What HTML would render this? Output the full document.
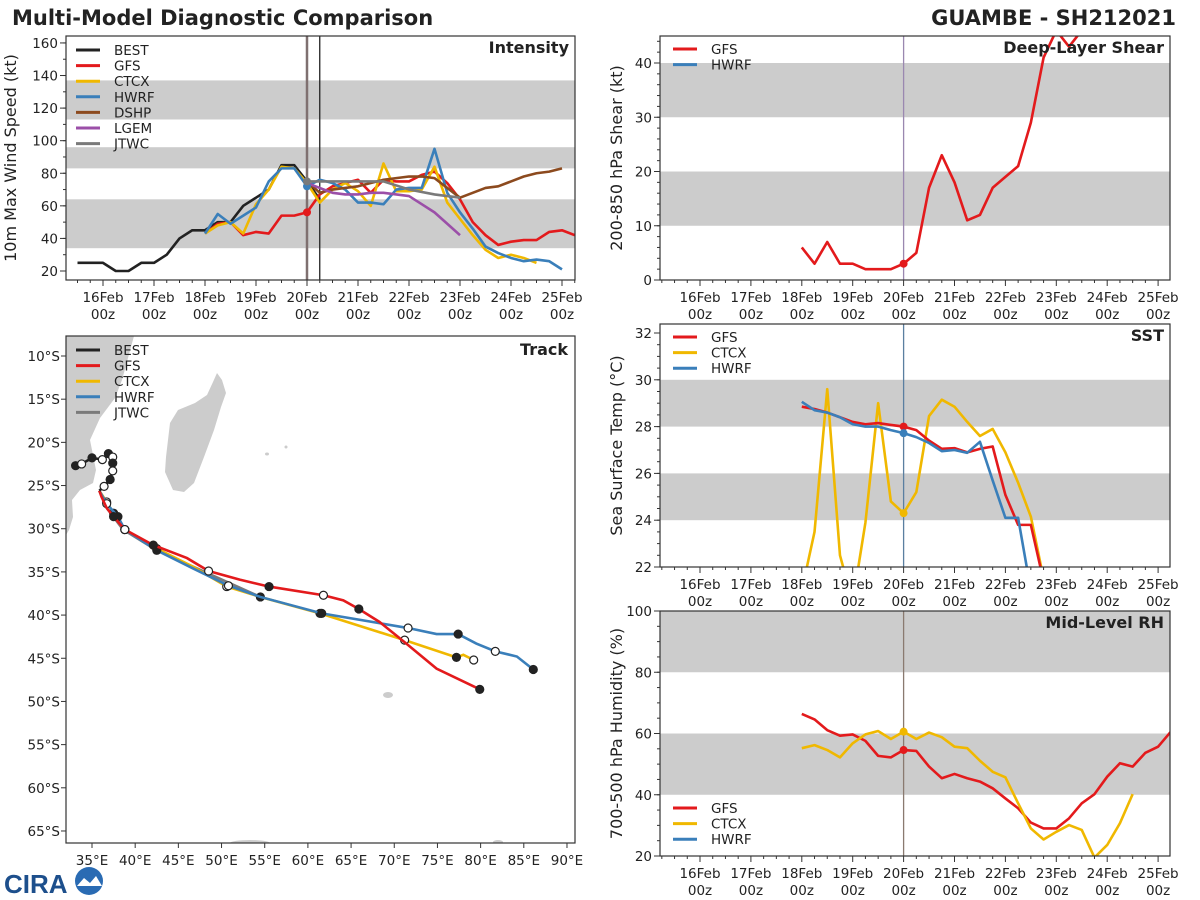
<!DOCTYPE html>
<html><head><meta charset="utf-8">
<style>
html,body{margin:0;padding:0;background:#fff;}
svg{display:block;font-family:"DejaVu Sans","Liberation Sans",sans-serif;}
</style></head>
<body>
<svg id="chart" width="1200" height="900" viewBox="0 0 1200 900" xmlns="http://www.w3.org/2000/svg">
<defs>
<clipPath id="c1"><rect x="66" y="36" width="509" height="244"/></clipPath>
<clipPath id="c2"><rect x="660" y="36" width="510" height="244"/></clipPath>
<clipPath id="c3"><rect x="660" y="324" width="510" height="243"/></clipPath>
<clipPath id="c4"><rect x="660" y="611" width="510" height="245"/></clipPath>
<clipPath id="c5"><rect x="66" y="336" width="509" height="507"/></clipPath>
</defs>
<text x="12" y="25" font-size="21" font-weight="bold" fill="#222">Multi-Model Diagnostic Comparison</text>
<text x="1176" y="25" font-size="21" font-weight="bold" fill="#222" text-anchor="end">GUAMBE - SH212021</text>
<g id="layer"></g>
<g>
<text x="4" y="893" font-size="26" font-weight="bold" fill="#1d4f8c" font-family="Liberation Sans,sans-serif">CIRA</text>
<circle cx="89" cy="881" r="14" fill="#2a6bb3"/>
<path d="M77 886 L84 878 L90 883 L96 876 L102 886 Z" fill="#fff"/>
</g>
</svg>
<script>
// ---- data (6-hourly unless noted) ----
const models = ['BEST','GFS','CTCX','HWRF','DSHP','LGEM','JTWC'];
const colors = {BEST:'#222222',GFS:'#e31a1c',CTCX:'#f0b800',HWRF:'#3a7fba',DSHP:'#8c4a1e',LGEM:'#9b4fa8',JTWC:'#7a7a7a'};
// start times in 6h steps from 16Feb00z
const bestStart = -2;
const bestVmax = [25,25,25,20,20,25,25,30,40,45,45,50,50,60,65,70,85,85,75,64];
const gfsVmax = [43,49,50,42,44,43,54,54,56,67,72,74,76,68,76,75,75,79,81,74,64,50,42,36,38,39,39,44,45,42];
const ctcxVmax = [43,48,50,43,61,70,84,83,74,62,70,74,69,60,86,69,69,70,84,62,52,42,33,28,30,28,25];
const hwrfVmax = [43,55,49,54,59,75,83,83,72,76,74,70,62,62,61,70,71,71,95,68,56,46,35,31,28,26,27,26,21];
const dshpVmax = [75,68,70,71,72,74,76,77,78,78,77,71,65,68,71,72,75,78,80,81,83];
const lgemVmax = [74,71,68,67,67,68,68,67,66,61,56,49,42];
const jtwcTimes = [16,18,20,22,24,26,28];
const jtwcVmax = [75,75,75,75,70,67,65];
const guideStart = 8, dshpStart = 16, envStart = 8;
const shearGfs = [6,3,7,3,3,2,2,2,3,5,17,23,18,11,12,17,19,21,29,41,46,43,46];
const sstGfs = [28.85,28.75,28.6,28.4,28.2,28.1,28.15,28.07,28.0,27.85,27.4,27.05,27.08,26.9,27.05,27.15,25.08,23.8,23.8,21.4];
const sstHwrf = [29.06,28.7,28.6,28.4,28.1,28.0,28.0,27.85,27.72,27.55,27.3,26.95,27.0,26.88,27.35,25.7,24.1,24.1,21.0];
const sstCtcx = [21.0,23.5,29.6,22.5,20.5,23.9,29.0,24.8,24.3,25.2,28.45,29.15,28.85,28.2,27.6,27.9,26.9,25.6,24.15,21.5];
const rhGfs = [66.4,64.6,61.1,59.3,59.7,57.6,52.7,52.2,54.6,54.3,49.2,45.4,46.8,45.4,44.3,42.1,38.8,35.6,30.9,29.0,29.0,32.3,37.2,40.2,45.9,50.3,49.2,53.7,55.7,60.6];
const rhCtcx = [55.2,56.2,54.6,52.2,56.8,59.7,60.8,58.2,60.6,58.2,60.3,58.8,55.7,55.2,51.1,47.5,45.7,37.2,29.0,25.4,27.9,30.1,28.5,19.5,23.6,30.7,40.2];
// tracks: lon (E), lat (S); marker 1=filled 2=open 0=none
const bestLon = [33.1,33.8,35.0,36.2,36.9,37.4,37.4,37.4,37.1,36.4,35.85];
const bestLat = [22.7,22.5,21.8,22.0,21.3,21.7,22.4,23.3,24.3,25.1,25.6];
const bestMk  = [1,2,1,2,1,2,1,2,1,2,0];
const gfsLon = [35.85,36.1,36.7,37.5,38.8,42.1,46.0,48.5,52.1,55.5,61.8,64.1,65.9,68.3,71.4,74.9,79.9];
const gfsLat = [25.6,26.3,27.6,28.6,30.1,31.9,33.4,34.9,35.9,36.7,37.7,38.3,39.3,40.8,43.3,46.2,48.6];
const gfsMk  = [0,0,0,1,2,1,0,2,0,1,2,0,1,0,0,0,1];
const ctcxLon = [35.85,36.7,37.5,38.8,42.5,46.7,50.6,54.5,61.4,71.2,77.2,78.0,79.2];
const ctcxLat = [25.6,26.9,28.2,30.1,32.3,34.4,36.7,37.9,39.8,42.9,44.9,44.6,45.2];
const ctcxMk  = [0,2,1,2,1,0,2,1,1,2,1,0,2];
const hwrfLon = [35.85,36.7,38.0,38.8,42.5,46.7,50.8,54.5,61.6,71.6,74.9,77.4,79.5,81.7,84.2,86.1];
const hwrfLat = [25.6,27.1,28.6,30.1,32.5,34.6,36.6,37.9,39.8,41.5,42.2,42.2,43.3,44.2,44.8,46.3];
const hwrfMk  = [0,2,1,2,1,0,2,0,1,2,0,1,0,2,0,1];
const jtwcLon = [35.85,36.7,38.6,42.5,54.5];
const jtwcLat = [25.6,27.6,30.1,32.5,37.9];
const dayLabels = ['16Feb','17Feb','18Feb','19Feb','20Feb','21Feb','22Feb','23Feb','24Feb','25Feb'];

const NS='http://www.w3.org/2000/svg';
const layer=document.getElementById('layer');
function mk(tag,attrs,parent){const e=document.createElementNS(NS,tag);for(const k in attrs)e.setAttribute(k,attrs[k]);(parent||layer).appendChild(e);return e;}
function txt(s,attrs,parent){const e=mk('text',attrs,parent);e.textContent=s;return e;}

const P1={x0:66,x1:575,y0:36,y1:280,clip:'c1',tx:t=>103+t*51,ty:v=>271-(v-20)*1.629};
const PS={x0:660,x1:1170,y0:36,y1:280,clip:'c2',tx:t=>700+t*50.9,ty:v=>280-v*5.425};
const PT={x0:660,x1:1170,y0:324,y1:567,clip:'c3',tx:t=>700+t*50.9,ty:v=>567-(v-22)*23.4};
const PR={x0:660,x1:1170,y0:611,y1:856,clip:'c4',tx:t=>700+t*50.9,ty:v=>856-(v-20)*3.0625};
const lonX=l=>92+(l-35)*8.636, latY=l=>356+(l-10)*8.636;

function bands(P,list,name){
  list.forEach(b=>{
    const r=mk('rect',{x:P.x0,y:P.ty(b[1]),width:P.x1-P.x0,height:P.ty(b[0])-P.ty(b[1]),fill:'#cccccc'});
    
    
  });
}
function frame(P,name){
  const r=mk('rect',{x:P.x0,y:P.y0,width:P.x1-P.x0,height:P.y1-P.y0,fill:'none',stroke:'#333','stroke-width':1.2});
  
  
}
function xaxis(P,name){
  const g=mk('g',{});
  
  
  for(let s=-4;s<=40;s++){const x=P.tx(s/4);if(x<P.x0||x>P.x1)continue;
    mk('line',{x1:x,x2:x,y1:P.y1,y2:P.y1+(s%4==0?6:3),stroke:'#333'},g);}
  dayLabels.forEach((d,i)=>{const x=P.tx(i);
    txt(d,{x:x,y:P.y1+22,'font-size':13.5,'text-anchor':'middle',fill:'#222'},g);
    txt('00z',{x:x,y:P.y1+39,'font-size':13.5,'text-anchor':'middle',fill:'#222'},g);});
}
function yaxis(P,name,ticks,minor,title,tx){
  const g=mk('g',{});
  
  
  minor.forEach(v=>{const y=P.ty(v);if(y<P.y0-0.5||y>P.y1+0.5)return;mk('line',{x1:P.x0-3,x2:P.x0,y1:y,y2:y,stroke:'#333'},g);});
  ticks.forEach(v=>{const y=P.ty(v);mk('line',{x1:P.x0-6,x2:P.x0,y1:y,y2:y,stroke:'#333'},g);
    txt(String(v),{x:P.x0-8,y:y+5,'font-size':13.5,'text-anchor':'end',fill:'#222'},g);});
  const cy=(P.y0+P.y1)/2;
  const t=txt(title,{x:tx,y:cy,'font-size':16,'text-anchor':'middle',fill:'#222',transform:`rotate(-90 ${tx} ${cy})`},g);
  
  
}
// start in 6h steps from 16Feb00z
function series(P,start,vals,color,name){
  const pts=vals.map((v,i)=>P.tx((start+i)*0.25)+','+P.ty(v)).join(' ');
  const l=mk('polyline',{points:pts,fill:'none',stroke:color,'stroke-width':2.6,'stroke-linejoin':'round','clip-path':`url(#${P.clip})`});
  
  
  return l;
}
function dot(P,t,v,color,name){
  const c=mk('circle',{cx:P.tx(t),cy:P.ty(v),r:4,fill:color});
  
  
}
function vline(P,t,color,w,name){
  const l=mk('line',{x1:P.tx(t),x2:P.tx(t),y1:P.y0,y2:P.y1,stroke:color,'stroke-width':w});
  
  
}
function legend(x,y,items,name){
  const g=mk('g',{});
  
  
  items.forEach((m,i)=>{const yy=y+i*15.6;
    mk('line',{x1:x,x2:x+24,y1:yy,y2:yy,stroke:colors[m],'stroke-width':3},g);
    const t=txt(m,{x:x+38,y:yy+5,'font-size':13.5,fill:'#222'},g);
    
    });
}
function ptitle(P,s,name){
  const t=txt(s,{x:P.x1-6,y:P.y0+17,'font-size':16,'font-weight':'bold','text-anchor':'end',fill:'#222'});
  
  
}
function range(a,b,s){const r=[];for(let v=a;v<=b+1e-9;v+=s)r.push(+v.toFixed(3));return r;}

// ---- Intensity ----
bands(P1,[[34,64],[83,96],[113,137]],'intensity');
vline(P1,4,'#7f7070',2.5,'analysis-time-line');
vline(P1,4.25,'#222',1.3,'current-time-line');
series(P1,bestStart,bestVmax,colors.BEST,'best-intensity-line');
series(P1,guideStart,gfsVmax,colors.GFS,'gfs-intensity-line');
series(P1,guideStart,ctcxVmax,colors.CTCX,'ctcx-intensity-line');
series(P1,guideStart,hwrfVmax,colors.HWRF,'hwrf-intensity-line');
series(P1,dshpStart,dshpVmax,colors.DSHP,'dshp-intensity-line');
series(P1,dshpStart,lgemVmax,colors.LGEM,'lgem-intensity-line');
(function(){const pts=jtwcTimes.map((s,i)=>P1.tx(s*0.25)+','+P1.ty(jtwcVmax[i])).join(' ');
 const l=mk('polyline',{points:pts,fill:'none',stroke:colors.JTWC,'stroke-width':2.6,'clip-path':'url(#c1)'});
 
 })();
dot(P1,4,gfsVmax[8],colors.GFS,'gfs-intensity-dot');
dot(P1,4,hwrfVmax[8],colors.HWRF,'hwrf-intensity-dot');
dot(P1,4,jtwcVmax[0],colors.JTWC,'jtwc-intensity-dot');
frame(P1,'intensity');xaxis(P1,'intensity');
yaxis(P1,'intensity',range(20,160,20),range(20,160,10),'10m Max Wind Speed (kt)',16);
legend(76,50,['BEST','GFS','CTCX','HWRF','DSHP','LGEM','JTWC'],'intensity-legend');
ptitle(P1,'Intensity','intensity-title');

// ---- Shear ----
bands(PS,[[10,20],[30,40]],'shear');
vline(PS,4,'#9a88b0',1.3,'shear-analysis-line');
series(PS,envStart,shearGfs,colors.GFS,'gfs-shear-line');
dot(PS,4,shearGfs[8],colors.GFS,'gfs-shear-dot');
frame(PS,'shear');xaxis(PS,'shear');
yaxis(PS,'shear',range(0,40,10),range(0,44,2),'200-850 hPa Shear (kt)',622);
legend(673,49,['GFS','HWRF'],'shear-legend');
ptitle(PS,'Deep-Layer Shear','shear-title');

// ---- SST ----
bands(PT,[[24,26],[28,30]],'sst');
vline(PT,4,'#5a7fa0',1.3,'sst-analysis-line');
series(PT,envStart,sstCtcx,colors.CTCX,'ctcx-sst-line');
series(PT,envStart,sstGfs,colors.GFS,'gfs-sst-line');
series(PT,envStart,sstHwrf,colors.HWRF,'hwrf-sst-line');
dot(PT,4,sstGfs[8],colors.GFS,'gfs-sst-dot');
dot(PT,4,sstHwrf[8],colors.HWRF,'hwrf-sst-dot');
dot(PT,4,sstCtcx[8],colors.CTCX,'ctcx-sst-dot');
frame(PT,'sst');xaxis(PT,'sst');
yaxis(PT,'sst',range(22,32,2),range(22,32,0.5),'Sea Surface Temp (°C)',622);
legend(673,337,['GFS','CTCX','HWRF'],'sst-legend');
ptitle(PT,'SST','sst-title');

// ---- RH ----
bands(PR,[[40,60],[80,100]],'rh');
vline(PR,4,'#8a7a70',1.3,'rh-analysis-line');
series(PR,envStart,rhGfs,colors.GFS,'gfs-rh-line');
series(PR,envStart,rhCtcx,colors.CTCX,'ctcx-rh-line');
dot(PR,4,rhCtcx[8],colors.CTCX,'ctcx-rh-dot');
dot(PR,4,rhGfs[8],colors.GFS,'gfs-rh-dot');
frame(PR,'rh');xaxis(PR,'rh');
yaxis(PR,'rh',range(20,100,20),range(20,100,5),'700-500 hPa Humidity (%)',622);
legend(673,808,['GFS','CTCX','HWRF'],'rh-legend');
ptitle(PR,'Mid-Level RH','rh-title');

// ---- Track ----
const PK={x0:66,x1:575,y0:336,y1:843};
(function(){
 const g=mk('g',{'clip-path':'url(#c5)'});
 
 
 mk('polygon',{points:'60,336 134,336 122,380 115,398 100,418 90,440 92,450 96,470 93,483 80,490 72,500 73,517 69,530 60,545',fill:'#cccccc'},g);
 mk('polygon',{points:'217,373 222,380 226,393 221,407 214,430 204,457 194,483 184,492 173,490 165,472 166,457 170,423 178,410 195,403 207,395 213,382',fill:'#cccccc'},g);
 mk('ellipse',{cx:267,cy:454,rx:2,ry:1.5,fill:'#cccccc'},g);
 mk('ellipse',{cx:286,cy:447,rx:1.5,ry:1.5,fill:'#cccccc'},g);
 mk('ellipse',{cx:388,cy:695,rx:5,ry:3,fill:'#cccccc'},g);
 mk('ellipse',{cx:250,cy:843,rx:20,ry:3,fill:'#cccccc'},g);
 mk('ellipse',{cx:498,cy:842,rx:5,ry:2,fill:'#cccccc'},g);
 mk('rect',{x:PK.x0,y:PK.y0,width:PK.x1-PK.x0,height:PK.y1-PK.y0,fill:'none',stroke:'#333','stroke-width':1.2});
})();
function track(lons,lats,mks,color,name){
  const pts=lons.map((l,i)=>lonX(l)+','+latY(lats[i])).join(' ');
  const p=mk('polyline',{points:pts,fill:'none',stroke:color,'stroke-width':2.6,'clip-path':'url(#c5)'});
  
  
  if(mks) mks.forEach((m,i)=>{if(!m)return;
    const c=mk('circle',{cx:lonX(lons[i]),cy:latY(lats[i]),r:4,fill:m==1?'#222':'#fff',stroke:'#222','stroke-width':1.2});
    
    });
}
track(jtwcLon,jtwcLat,null,colors.JTWC,'jtwc-track');
track(ctcxLon,ctcxLat,ctcxMk,colors.CTCX,'ctcx-track');
track(hwrfLon,hwrfLat,hwrfMk,colors.HWRF,'hwrf-track');
track(gfsLon,gfsLat,gfsMk,colors.GFS,'gfs-track');
track(bestLon,bestLat,bestMk,colors.BEST,'best-track');
(function(){
 const g=mk('g',{});
 
 
 for(let lo=35;lo<=90;lo+=5){const x=lonX(lo);
   mk('line',{x1:x,x2:x,y1:PK.y1,y2:PK.y1+5,stroke:'#333'},g);
   txt(lo+'°E',{x:x,y:PK.y1+22,'font-size':13.5,'text-anchor':'middle',fill:'#222'},g);}
 for(let la=10;la<=65;la+=5){const y=latY(la);
   mk('line',{x1:PK.x0-5,x2:PK.x0,y1:y,y2:y,stroke:'#333'},g);
   txt(la+'°S',{x:PK.x0-6,y:y+5,'font-size':13.5,'text-anchor':'end',fill:'#222'},g);}
})();
legend(76,350,['BEST','GFS','CTCX','HWRF','JTWC'],'track-legend');
(function(){const t=txt('Track',{x:568,y:355,'font-size':16,'font-weight':'bold','text-anchor':'end',fill:'#222'});
 
 })();
</script>
</body></html>
